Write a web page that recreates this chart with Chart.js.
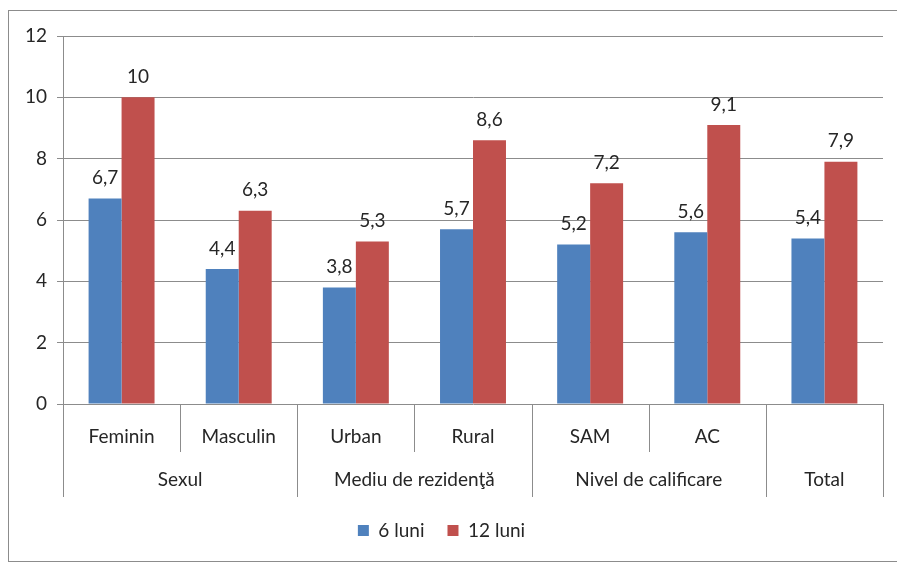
<!DOCTYPE html>
<html>
<head>
<meta charset="utf-8">
<script src="https://cdn.jsdelivr.net/npm/chart.js@4.4.1/dist/chart.umd.min.js"></script>
<style>
  body { margin: 0; background: #fff; }
  #frame { position: absolute; left: 8px; top: 10px; width: 900px; height: 550px; border: 1px solid #8c8c8c; }
  #wrap { position: absolute; left: 0; top: 0; width: 897px; height: 564px; }
</style>
</head>
<body>
<div id="frame"></div>
<div id="wrap"><canvas id="myChart" width="897" height="564"></canvas></div>
<script>
// categories (first row) and groups (second row)
const categories = ["Feminin", "Masculin", "Urban", "Rural", "SAM", "AC", ""];
const groupLabels = ["Sexul", "Mediu de rezidenţă", "Nivel de calificare", "Total"];
const groupSizes = [2, 2, 2, 1];
// series
const luni6 = [6.7, 4.4, 3.8, 5.7, 5.2, 5.6, 5.4];
const luni12 = [10, 6.3, 5.3, 8.6, 7.2, 9.1, 7.9];
const yTicks = [0, 2, 4, 6, 8, 10, 12];

const textColor = "#262626";
const gridColor = "#8c8c8c";
const fontFamily = "Lato, 'Open Sans', sans-serif";
const fontSize = 19;

const valueLabels = {
  id: "valueLabels",
  afterDatasetsDraw(chart) {
    const ctx = chart.ctx;
    ctx.save();
    ctx.fillStyle = textColor;
    ctx.font = fontSize + "px " + fontFamily;
    ctx.textAlign = "center";
    ctx.textBaseline = "bottom";
    chart.data.datasets.forEach((ds, di) => {
      chart.getDatasetMeta(di).data.forEach((el, i) => {
        ctx.fillText(String(ds.data[i]).replace(".", ","), el.x, el.y - 11);
      });
    });
    ctx.restore();
  }
};

const groupAxis = {
  id: "groupAxis",
  afterDraw(chart) {
    const ctx = chart.ctx;
    const x = chart.scales.x;
    const y0 = chart.chartArea.bottom;
    const half = (x.getPixelForValue(1) - x.getPixelForValue(0)) / 2;
    ctx.save();
    ctx.strokeStyle = gridColor;
    ctx.lineWidth = 1;
    ctx.fillStyle = textColor;
    ctx.font = fontSize + "px " + fontFamily;
    ctx.textAlign = "center";
    ctx.textBaseline = "middle";
    let idx = 0;
    const line = (px, len) => {
      ctx.beginPath();
      ctx.moveTo(Math.round(px) + 0.5, y0);
      ctx.lineTo(Math.round(px) + 0.5, y0 + len);
      ctx.stroke();
    };
    line(x.getPixelForValue(0) - half, 93);
    groupSizes.forEach((n, g) => {
      const left = x.getPixelForValue(idx) - half;
      const right = x.getPixelForValue(idx + n - 1) + half;
      for (let k = 1; k < n; k++) line(x.getPixelForValue(idx + k) - half, 48);
      line(right, 93);
      ctx.fillText(groupLabels[g], (left + right) / 2, y0 + 76);
      idx += n;
    });
    ctx.restore();
  }
};

const ctx = document.getElementById("myChart").getContext("2d");
const myChart = new Chart(ctx, {
  type: "bar",
  data: {
    labels: categories,
    datasets: [
      { label: "6 luni", data: luni6, backgroundColor: "#4f81bd", categoryPercentage: 0.563, barPercentage: 1 },
      { label: "12 luni", data: luni12, backgroundColor: "#c0504d", categoryPercentage: 0.563, barPercentage: 1 }
    ]
  },
  options: {
    responsive: false,
    animation: false,
    layout: { padding: { top: 36, right: 14, bottom: 14, left: 0 } },
    plugins: {
      legend: {
        position: "bottom",
        labels: {
          boxWidth: 11, boxHeight: 11, padding: 23,
          color: textColor,
          font: { family: fontFamily, size: fontSize }
        }
      },
      tooltip: { enabled: false }
    },
    scales: {
      x: {
        grid: { display: false },
        border: { display: false },
        ticks: { color: textColor, font: { family: fontFamily, size: fontSize }, padding: 13, maxRotation: 0, autoSkip: false },
        afterFit(scale) { scale.height = 94; }
      },
      y: {
        min: 0, max: 12,
        afterBuildTicks(scale) { scale.ticks = yTicks.map(v => ({ value: v })); },
        grid: { color: gridColor, lineWidth: 1, tickLength: 6 },
        border: { color: gridColor },
        ticks: { color: textColor, font: { family: fontFamily, size: fontSize }, padding: 10 },
        afterFit(scale) { scale.width = 63; }
      }
    }
  },
  plugins: [valueLabels, groupAxis]
});
</script>
</body>
</html>
